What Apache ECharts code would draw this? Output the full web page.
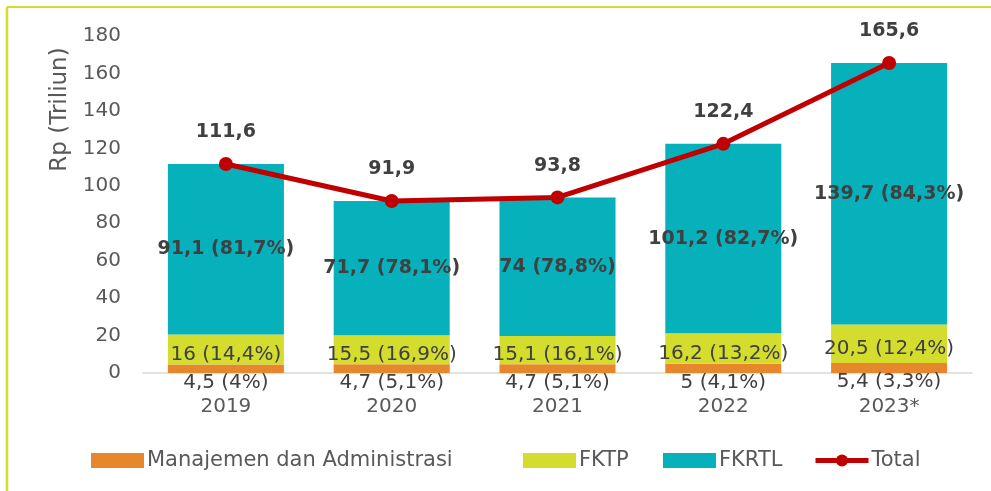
<!DOCTYPE html>
<html>
<head>
<meta charset="utf-8">
<script src="https://cdn.jsdelivr.net/npm/echarts@6/dist/echarts.min.js"></script>
<style>
  html, body { margin: 0; padding: 0; background: #fff; }
  #chart { width: 991px; height: 491px; }
</style>
</head>
<body>
<div id="chart"></div>
<script>
var years = ['2019', '2020', '2021', '2022', '2023*'];
var manajemen = [4.5, 4.7, 4.7, 5, 5.4];
var manajemenPct = [4, 5.1, 5.1, 4.1, 3.3];
var fktp = [16, 15.5, 15.1, 16.2, 20.5];
var fktpPct = [14.4, 16.9, 16.1, 13.2, 12.4];
var fkrtl = [91.1, 71.7, 74, 101.2, 139.7];
var fkrtlPct = [81.7, 78.1, 78.8, 82.7, 84.3];
var total = [111.6, 91.9, 93.8, 122.4, 165.6];

var font = 'DejaVu Sans';
var grey = '#595959';
var dark = '#404040';

function fmt(v) {
    return String(v).replace('.', ',');
}
function withPct(pcts) {
    return function (p) {
        return fmt(p.value) + ' (' + fmt(pcts[p.dataIndex]) + '%)';
    };
}

// one legend per item so each can sit where it does in the original
function legendAt(name, left, icon) {
    return {
        left: left,
        top: 445,
        icon: icon,
        itemWidth: 53,
        itemHeight: 15,
        itemGap: 0,
        lineStyle: { width: 5 },
        textStyle: { color: grey, fontSize: 21, fontFamily: font, padding: [0, 0, 0, -2] },
        data: [name]
    };
}

var chart = echarts.init(document.getElementById('chart'));

var option = {
    animation: false,
    textStyle: { fontFamily: font },
    grid: {
        left: 143,
        right: 19,
        top: 36,
        bottom: 118
    },
    legend: [
        legendAt('Manajemen dan Administrasi', 86, 'rect'),
        legendAt('FKTP', 518, 'rect'),
        legendAt('FKRTL', 658, 'rect'),
        legendAt('Total', 808)
    ],
    xAxis: {
        type: 'category',
        data: years,
        axisLine: { lineStyle: { color: '#d9d9d9', width: 1.5 } },
        axisTick: { show: false },
        axisLabel: { color: grey, fontSize: 20, margin: 24 }
    },
    yAxis: {
        type: 'value',
        min: 0,
        max: 180,
        interval: 20,
        name: 'Rp (Triliun)',
        nameLocation: 'middle',
        nameRotate: 90,
        nameGap: 72,
        nameTextStyle: { color: grey, fontSize: 23, padding: [0, 0, 0, 190], align: 'center', verticalAlign: 'middle' },
        axisLine: { show: false },
        axisTick: { show: false },
        splitLine: { show: false },
        axisLabel: { color: grey, fontSize: 20, margin: 22 }
    },
    series: [
        {
            name: 'Manajemen dan Administrasi',
            type: 'bar',
            stack: 'a',
            barWidth: '70%',
            data: manajemen,
            itemStyle: { color: '#E8862E' },
            label: {
                show: true,
                position: 'inside',
                offset: [0, 14],
                color: dark,
                fontSize: 20,
                formatter: withPct(manajemenPct)
            }
        },
        {
            name: 'FKTP',
            type: 'bar',
            stack: 'a',
            data: fktp,
            itemStyle: { color: '#D4DC2E' },
            label: {
                show: true,
                position: 'inside',
                offset: [0, 5],
                color: dark,
                fontSize: 20,
                formatter: withPct(fktpPct)
            }
        },
        {
            name: 'FKRTL',
            type: 'bar',
            stack: 'a',
            data: fkrtl,
            itemStyle: { color: '#07B1BC' },
            label: {
                show: true,
                position: 'inside',
                color: dark,
                fontSize: 19,
                fontWeight: 'bold',
                formatter: withPct(fkrtlPct)
            }
        },
        {
            name: 'Total',
            type: 'line',
            data: total,
            symbol: 'circle',
            symbolSize: 14,
            lineStyle: { color: '#C00000', width: 5 },
            itemStyle: { color: '#C00000' },
            z: 5,
            label: {
                show: true,
                position: 'top',
                distance: 15,
                color: dark,
                fontSize: 19,
                fontWeight: 'bold',
                formatter: function (p) { return fmt(p.value); }
            }
        }
    ],
    graphic: [
        {
            type: 'line',
            shape: { x1: 7, y1: 7, x2: 991, y2: 7 },
            style: { stroke: '#D4DC2E', lineWidth: 2 }
        },
        {
            type: 'line',
            shape: { x1: 7, y1: 7, x2: 7, y2: 491 },
            style: { stroke: '#D4DC2E', lineWidth: 2.5 }
        }
    ]
};

chart.setOption(option);

window.onresize = function () {
    chart.resize();
};
</script>
</body>
</html>
